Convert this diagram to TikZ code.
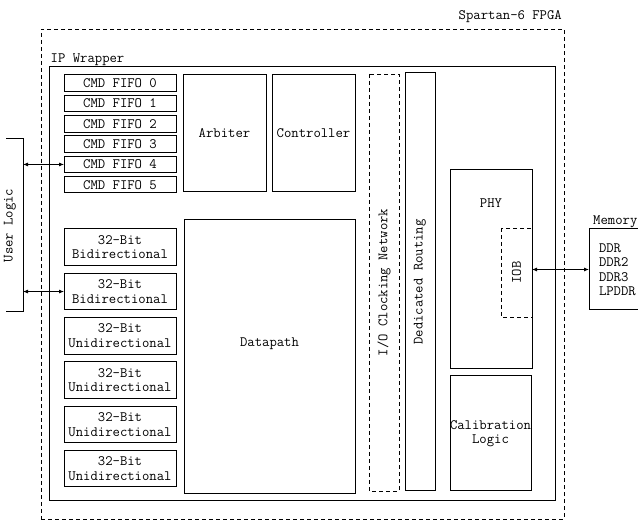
\documentclass[tikz,border=0pt]{standalone}
\usetikzlibrary{arrows.meta,positioning}

\begin{document}
\begin{tikzpicture}[
      x=1pt, y=-1pt,
      every node/.style={font=\fontsize{14.3}{14.5}\selectfont\ttfamily},
      box/.style={draw,line width=1pt,align=center,inner sep=0pt,outer sep=0pt},
      dbox/.style={box,dash pattern=on 4pt off 3pt,line width=0.8pt},
      fifo/.style={box,minimum width=112pt,minimum height=16.5pt},
      port/.style={box,minimum width=112pt,minimum height=36.5pt},
      arr/.style={{Latex[length=5pt,width=4pt]}-{Latex[length=5pt,width=4pt]},line width=0.8pt},
    ]
      \useasboundingbox (0,0) rectangle (638,521);
      % chip and wrapper
      \node[dbox,anchor=north west,minimum width=523pt,minimum height=490pt] (fpga) at (41,29) {};
      \node[anchor=south east,inner sep=2pt,yshift=4pt] (fpgalbl) at (fpga.north east) {Spartan-6 FPGA};
      \node[box,anchor=north west,minimum width=506pt,minimum height=434pt] (wrap) at (49,67) {};
      \node[anchor=south west,inner sep=1.5pt] (wraplbl) at (wrap.north west) {IP Wrapper};
      % command side
      \node[fifo,anchor=north west] (fifo0) at (64,75) {CMD FIFO 0};
      \node[fifo,below=3.8pt of fifo0] (fifo1) {CMD FIFO 1};
      \node[fifo,below=3.8pt of fifo1] (fifo2) {CMD FIFO 2};
      \node[fifo,below=3.8pt of fifo2] (fifo3) {CMD FIFO 3};
      \node[fifo,below=3.8pt of fifo3] (fifo4) {CMD FIFO 4};
      \node[fifo,below=3.8pt of fifo4] (fifo5) {CMD FIFO 5};
      \node[box,anchor=north west,minimum width=83pt,minimum height=117pt] (arb) at (183,75) {Arbiter};
      \node[box,right=6pt of arb,minimum width=83pt,minimum height=117pt] (ctrl) {Controller};
      % data side
      \node[port,anchor=north west] (port0) at (64,229) {32-Bit\\Bidirectional};
      \node[port,below=7.8pt of port0] (port1) {32-Bit\\Bidirectional};
      \node[port,below=7.8pt of port1] (port2) {32-Bit\\Unidirectional};
      \node[port,below=7.8pt of port2] (port3) {32-Bit\\Unidirectional};
      \node[port,below=7.8pt of port3] (port4) {32-Bit\\Unidirectional};
      \node[port,below=7.8pt of port4] (port5) {32-Bit\\Unidirectional};
      \node[box,anchor=north west,minimum width=171pt,minimum height=274pt] (dpath) at (184,220) {};
      \node (dptxt) at ([yshift=13pt]dpath.center) {Datapath};
      % clocking / routing columns
      \node[dbox,rotate=90,minimum width=417pt,minimum height=30pt] (ioclk) at (384,282.5) {I/O Clocking Network};
      \node[box,rotate=90,minimum width=418pt,minimum height=30pt] (route) at (420,282) {Dedicated Routing};
      % phy
      \node[box,anchor=north west,minimum width=82pt,minimum height=199pt] (phy) at (450,170) {};
      \node[below=26pt of phy.north,inner sep=3pt] (phytxt) {PHY};
      \node[dbox,rotate=90,minimum width=89pt,minimum height=31pt] (iob) at (516.5,272.5) {IOB};
      \node[box,anchor=north west,minimum width=81pt,minimum height=115pt] (calib) at (450,376) {Calibration\\Logic};
      % memory
      \node[box,anchor=north west,minimum height=81pt,text width=40pt,inner xsep=10pt,align=left] (mem) at (589,229) {DDR\\DDR2\\DDR3\\LPDDR};
      \node[anchor=south west,inner sep=1.5pt,xshift=2.5pt] (memlbl) at (mem.north west) {Memory};
      % user logic
      \coordinate (ultop) at (23,139);
      \coordinate (ulbot) at (23,312);
      \draw[line width=1pt] (6,139) -- (ultop) -- (ulbot) -- (6,312);
      \node[rotate=90] (user) at (10,225.5) {User Logic};
      \draw[arr] (fifo4.west -| ultop) -- (fifo4.west);
      \draw[arr] (port1.west -| ultop) -- (port1.west);
      \draw[arr] (mem.west -| phy.east) -- (mem.west);
    \end{tikzpicture}
\end{document}
